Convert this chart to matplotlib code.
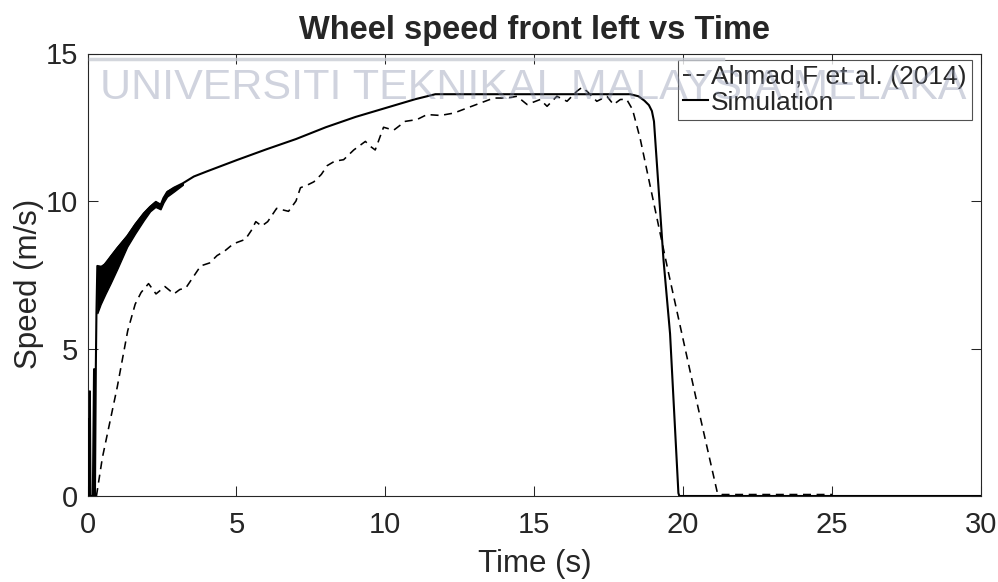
import matplotlib
matplotlib.use("Agg")
import matplotlib.pyplot as plt
from matplotlib import font_manager
from matplotlib.lines import Line2D

# ---------------- data ----------------
ref_t = [0.30, 0.50, 1.00, 1.35, 1.60, 1.80, 2.05, 2.30, 2.60, 2.90, 3.10, 3.30,
         3.60, 3.80, 4.10, 4.35, 4.60, 4.90, 5.30, 5.50, 5.65, 5.85, 6.05, 6.35,
         6.75, 7.00, 7.15, 7.40, 7.60, 7.85, 8.05, 8.30, 8.60, 8.94, 9.33, 9.50,
         9.66, 9.94, 10.28, 10.67, 11.06, 11.40, 11.85, 12.30, 12.74, 13.19, 13.64,
         14.08, 14.42, 14.76, 15.20, 15.43, 15.76, 16.10, 16.43, 16.60, 16.77,
         17.10, 17.44, 17.66, 17.89, 18.10, 18.30, 18.56, 19.50, 20.50, 21.15,
         21.30, 25.00]
ref_v = [0.00, 1.30, 3.70, 5.60, 6.50, 6.90, 7.20, 6.85, 7.10, 6.85, 7.00, 7.05,
         7.50, 7.80, 7.90, 8.15, 8.30, 8.55, 8.70, 9.00, 9.30, 9.15, 9.30, 9.75,
         9.65, 10.00, 10.45, 10.55, 10.65, 10.90, 11.20, 11.35, 11.40, 11.73, 12.02, 11.85,
         11.73, 12.50, 12.40, 12.70, 12.76, 12.93, 12.90, 12.98, 13.15, 13.32, 13.49,
         13.49, 13.55, 13.27, 13.44, 13.21, 13.55, 13.38, 13.72, 13.85, 13.72,
         13.38, 13.55, 13.27, 13.44, 13.45, 13.10, 12.10, 7.60, 3.00, 0.10,
         0.05, 0.05]

sim_t = [0.00, 0.03, 0.05, 0.08, 0.10, 0.13, 0.18, 0.22, 0.25, 0.28, 0.30, 0.33,
         0.50, 0.77, 1.00, 1.33, 1.60, 1.89, 2.10, 2.28, 2.45, 2.55, 2.67, 2.90,
         3.20, 3.57, 4.00, 5.02, 6.00, 7.00, 8.00, 9.00, 10.00, 11.00, 11.68,
         18.22, 18.50, 18.70, 18.85, 18.95, 19.02, 19.34, 19.56, 19.84, 19.87, 30.00]
sim_v = [0.00, 2.60, 0.00, 3.55, 0.00, 0.00, 0.00, 4.30, 0.00, 4.40, 6.20, 7.80,
         7.75, 8.10, 8.40, 8.80, 9.20, 9.58, 9.80, 9.95, 9.85, 10.10, 10.30, 10.45,
         10.60, 10.83, 11.00, 11.39, 11.75, 12.10, 12.50, 12.85, 13.15, 13.45, 13.62,
         13.62, 13.55, 13.40, 13.25, 13.05, 12.70, 8.00, 5.50, 0.10, 0.00, 0.00]

# envelope of the fast oscillation of the simulated signal at start-up
band_t = [0.33, 0.44, 0.60, 0.77, 1.00, 1.33, 1.60, 1.89, 2.10, 2.28, 2.45, 2.55, 2.67, 2.90, 3.20]
band_lo = [6.20, 6.50, 6.85, 7.20, 7.70, 8.45, 8.90, 9.35, 9.65, 9.80, 9.72, 9.95, 10.15, 10.32, 10.55]
band_hi = [7.80, 7.80, 7.90, 8.15, 8.45, 8.85, 9.25, 9.62, 9.84, 10.00, 9.90, 10.12, 10.34, 10.47, 10.60]

labels = ["Ahmad,F et al. (2014)", "Simulation"]
title = "Wheel speed front left vs Time"
xlabel = "Time (s)"
ylabel = "Speed (m/s)"
xticks = [0, 5, 10, 15, 20, 25, 30]
yticks = [0, 5, 10, 15]
watermark = "UNIVERSITI TEKNIKAL MALAYSIA MELAKA"

# ---------------- fonts ----------------
def have(name):
    try:
        font_manager.findfont(font_manager.FontProperties(family=name),
                              fallback_to_default=False)
        return True
    except Exception:
        return False

if have("Liberation Sans Narrow"):
    FAM = ["Liberation Sans Narrow", "DejaVu Sans"]
    fs_tick, fs_leg, fs_lab = 23.5, 23, 27
else:
    FAM = ["Liberation Sans", "DejaVu Sans"]
    fs_tick, fs_leg, fs_lab = 21, 19, 22.5
TFAM = ["Liberation Sans", "DejaVu Sans"]
TXT = "#262626"

# ---------------- figure ----------------
fig = plt.figure(figsize=(9.98, 5.82), dpi=100)
L, R, T, B = 87.5, 981, 53.5, 496
W, H = 998, 582
ax = fig.add_axes([L / W, 1 - B / H, (R - L) / W, (B - T) / H])

ax.plot(ref_t, ref_v, color="black", lw=1.15, ls=(0, (5, 3.5)), label=labels[0], zorder=3)
ax.fill_between(band_t, band_lo, band_hi, color="black", lw=1.0, zorder=3)
ax.plot(sim_t, sim_v, color="black", lw=1.5, label=labels[1], zorder=4)

ax.set_xlim(0, 30)
ax.set_ylim(0, 15)
ax.set_xticks(xticks)
ax.set_yticks(yticks)
ax.set_xticklabels([str(v) for v in xticks], family=FAM, fontsize=fs_tick, color=TXT)
ax.set_yticklabels([str(v) for v in yticks], family=FAM, fontsize=fs_tick, color=TXT)
ax.tick_params(direction="in", length=7.5, width=0.75, top=True, right=True,
               colors=TXT, labelcolor=TXT)
ax.tick_params(axis="x", pad=11)
ax.tick_params(axis="y", pad=6.5)
for s in ax.spines.values():
    s.set_linewidth(0.8)
    s.set_color(TXT)

ax.set_xlabel(xlabel, family=FAM, fontsize=fs_lab, color=TXT)
ax.set_ylabel(ylabel, family=FAM, fontsize=fs_lab, color=TXT)
ax.xaxis.label.set_va("center")
ax.yaxis.label.set_va("center")
ax.xaxis.set_label_coords((535 - L) / (R - L), (B - 564) / (B - T))
ax.yaxis.set_label_coords((29 - L) / (R - L), (B - 284) / (B - T))

ax.text(0.5, (B - 30) / (B - T), title, transform=ax.transAxes, ha="center", va="center",
        family=TFAM, fontsize=23.5, fontweight="bold", color=TXT)

leg = ax.legend(loc="upper right", bbox_to_anchor=((972 - L) / (R - L), (B - 60) / (B - T)),
                prop={"family": FAM, "size": fs_leg}, frameon=True, fancybox=False,
                borderpad=0.2, labelspacing=0.05, handlelength=0.95, handletextpad=0.12,
                borderaxespad=0.0)
leg.get_frame().set_edgecolor(TXT)
leg.get_frame().set_linewidth(0.8)
for t in leg.get_texts():
    t.set_color(TXT)

# faint watermark overlay from the source page
fig.add_artist(Line2D([90 / W, 723 / W], [1 - 58.5 / H, 1 - 58.5 / H], color="#c9ccd4",
                      lw=2.5, alpha=0.8, zorder=9))
fig.text(533 / W, 1 - 88 / H, watermark, ha="center", va="center", family=TFAM,
         fontsize=31, color="#8a93ad", alpha=0.4, zorder=10)

fig.savefig("out.png", dpi=100)
